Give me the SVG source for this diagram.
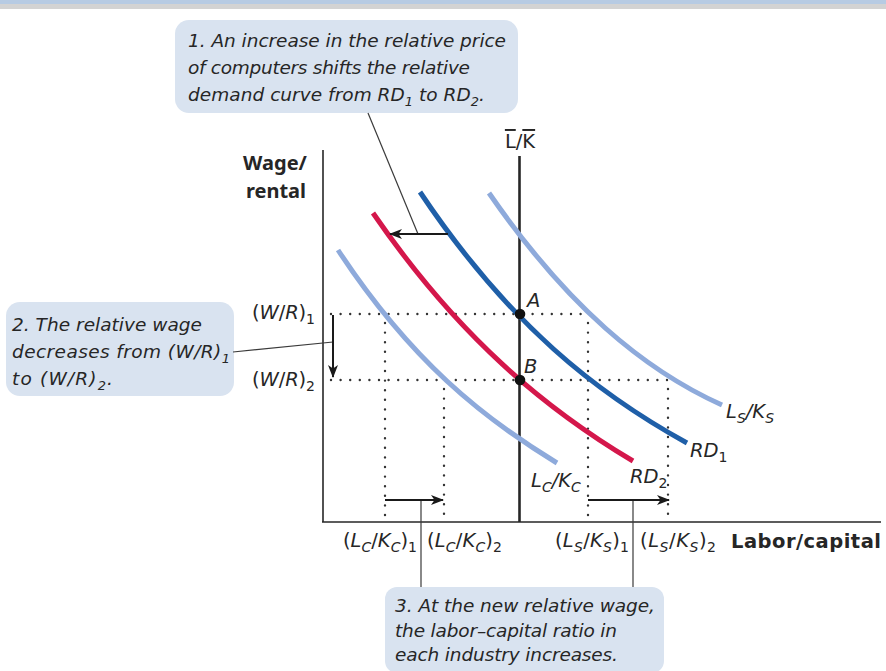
<svg xmlns="http://www.w3.org/2000/svg" width="886" height="671" viewBox="0 0 886 671">
<style>
text{font-family:"DejaVu Sans","Noto Sans",sans-serif;fill:#262626}
.co{font-size:18.5px;font-style:italic}
.lab{font-size:19.5px}
.i{font-style:italic}
.bold{font-weight:bold;font-size:20px;font-family:"Noto Sans","DejaVu Sans",sans-serif}
.bold2{font-weight:bold;font-size:19.5px}
.box{fill:#d9e3f0}
.axis{stroke:#262626;stroke-width:1.6;fill:none}
.dot{stroke:#333;stroke-width:2.4;stroke-linecap:round;stroke-dasharray:0 9.6;fill:none}
.arr{stroke:#1a1a1a;stroke-width:2;fill:none;marker-end:url(#ah)}
.lead{stroke:#3a3a3a;stroke-width:1.2;fill:none}
.curve{fill:none;stroke-width:5;stroke-linecap:butt}
</style>
<defs>
<marker id="ah" viewBox="0 0 13 10" refX="12" refY="5" markerWidth="13" markerHeight="10" markerUnits="userSpaceOnUse" orient="auto">
<path d="M0,0 L13,5 L0,10 L3.5,5 z" fill="#1a1a1a"/>
</marker>
</defs>
<rect x="0" y="0" width="886" height="4" fill="#b7cbe3"/>
<rect x="0" y="4" width="886" height="5" fill="#d3d3d3"/>

<g id="axes">
<line class="axis" x1="323" y1="150" x2="323" y2="522"/>
<line class="axis" x1="322" y1="522" x2="881" y2="522"/>
<text class="bold" x="275" y="170" text-anchor="middle">Wage/</text>
<text class="bold" x="276" y="198" text-anchor="middle">rental</text>
<text class="bold2" x="731" y="548" textLength="150">Labor/capital</text>
</g>

<g id="lk-line">
<line x1="519.5" y1="156" x2="519.5" y2="522" stroke="#262626" stroke-width="2.6"/>
<text class="lab" x="520" y="148" text-anchor="middle"><tspan text-decoration="overline">L</tspan>/<tspan text-decoration="overline">K</tspan></text>
</g>

<g id="dotted-guides">
<line class="dot" x1="331" y1="314" x2="590" y2="314"/>
<line class="dot" x1="331" y1="380" x2="670" y2="380"/>
<line class="dot" x1="385" y1="323" x2="385" y2="518"/>
<line class="dot" x1="444" y1="389" x2="444" y2="518"/>
<line class="dot" x1="588" y1="323" x2="588" y2="518"/>
<line class="dot" x1="668" y1="389" x2="668" y2="518"/>
</g>

<g id="curve-lckc">
<path class="curve" stroke="#8eaadb" d="M338,250 C411,361 483,418 557,463"/>
<text class="lab i" x="531" y="487">L<tspan font-size="14" dy="5">C</tspan><tspan dy="-5">/K</tspan><tspan font-size="14" dy="5">C</tspan></text>
</g>
<g id="curve-rd2">
<path class="curve" stroke="#d4174b" d="M373,213 C459,338 546,409 633,461"/>
<text class="lab i" x="630" y="483">RD<tspan font-size="14" dy="5" font-style="normal">2</tspan></text>
</g>
<g id="curve-rd1">
<path class="curve" stroke="#1f5fa8" d="M420,192 C509,325 598,394 687,443"/>
<text class="lab i" x="690" y="457">RD<tspan font-size="14" dy="5" font-style="normal">1</tspan></text>
</g>
<g id="curve-lsks">
<path class="curve" stroke="#8eaadb" d="M489,193 C567,306 644,370 722,405"/>
<text class="lab i" x="726" y="418">L<tspan font-size="14" dy="5">S</tspan><tspan dy="-5">/K</tspan><tspan font-size="14" dy="5">S</tspan></text>
</g>

<g id="point-a">
<circle cx="520" cy="314" r="5.3" fill="#111"/>
<text class="lab i" x="527" y="307">A</text>
</g>
<g id="point-b">
<circle cx="520" cy="380" r="5.3" fill="#111"/>
<text class="lab i" x="524" y="373">B</text>
</g>

<g id="y-labels">
<text class="lab" x="252" y="319" textLength="63">(<tspan class="i">W</tspan>/<tspan class="i">R</tspan>)<tspan font-size="14" dy="5">1</tspan></text>
<text class="lab" x="252" y="386" textLength="63">(<tspan class="i">W</tspan>/<tspan class="i">R</tspan>)<tspan font-size="14" dy="5">2</tspan></text>
</g>

<g id="x-labels">
<text class="lab" x="343" y="547" textLength="74">(<tspan class="i">L</tspan><tspan class="i" font-size="14" dy="5">C</tspan><tspan dy="-5">/</tspan><tspan class="i">K</tspan><tspan class="i" font-size="14" dy="5">C</tspan><tspan dy="-5">)</tspan><tspan font-size="14" dy="5">1</tspan></text>
<text class="lab" x="427" y="547" textLength="75">(<tspan class="i">L</tspan><tspan class="i" font-size="14" dy="5">C</tspan><tspan dy="-5">/</tspan><tspan class="i">K</tspan><tspan class="i" font-size="14" dy="5">C</tspan><tspan dy="-5">)</tspan><tspan font-size="14" dy="5">2</tspan></text>
<text class="lab" x="555" y="547" textLength="74">(<tspan class="i">L</tspan><tspan class="i" font-size="14" dy="5">S</tspan><tspan dy="-5">/</tspan><tspan class="i">K</tspan><tspan class="i" font-size="14" dy="5">S</tspan><tspan dy="-5">)</tspan><tspan font-size="14" dy="5">1</tspan></text>
<text class="lab" x="640" y="547" textLength="76">(<tspan class="i">L</tspan><tspan class="i" font-size="14" dy="5">S</tspan><tspan dy="-5">/</tspan><tspan class="i">K</tspan><tspan class="i" font-size="14" dy="5">S</tspan><tspan dy="-5">)</tspan><tspan font-size="14" dy="5">2</tspan></text>
</g>

<g id="callout-1">
<rect class="box" x="175" y="20" width="343" height="93" rx="14"/>
<text class="co" x="188" y="47" textLength="318">1. An increase in the relative price</text>
<text class="co" x="188" y="74" textLength="282">of computers shifts the relative</text>
<text class="co" x="188" y="101" textLength="297">demand curve from RD<tspan font-size="13" dy="5">1</tspan><tspan dy="-5"> to RD</tspan><tspan font-size="13" dy="5">2</tspan><tspan dy="-5">.</tspan></text>
</g>

<g id="callout-2">
<rect class="box" x="6" y="302" width="228" height="94" rx="14"/>
<text class="co" x="12" y="331" textLength="190">2. The relative wage</text>
<text class="co" x="12" y="358" textLength="218">decreases from (W/R)<tspan font-size="13" dy="5">1</tspan></text>
<text class="co" x="12" y="385" textLength="101">to (W/R)<tspan font-size="13" dy="5">2</tspan><tspan dy="-5">.</tspan></text>
</g>

<g id="callout-3">
<rect class="box" x="385" y="587" width="279" height="86" rx="12"/>
<text class="co" x="395" y="612" textLength="260">3. At the new relative wage,</text>
<text class="co" x="395" y="637" textLength="222">the labor–capital ratio in</text>
<text class="co" x="395" y="661" textLength="223">each industry increases.</text>
</g>

<g id="connectors">
<line class="lead" x1="368" y1="113" x2="418" y2="234"/>
<line class="lead" x1="233" y1="352" x2="333" y2="342"/>
<line class="lead" x1="421" y1="500" x2="421" y2="587"/>
<line class="lead" x1="633" y1="500" x2="633" y2="587"/>
<line class="arr" x1="448" y1="234" x2="390" y2="234"/>
<line class="arr" x1="333" y1="315" x2="333" y2="377"/>
<line class="arr" x1="385" y1="500" x2="443" y2="500"/>
<line class="arr" x1="588" y1="500" x2="669" y2="500"/>
</g>
</svg>
